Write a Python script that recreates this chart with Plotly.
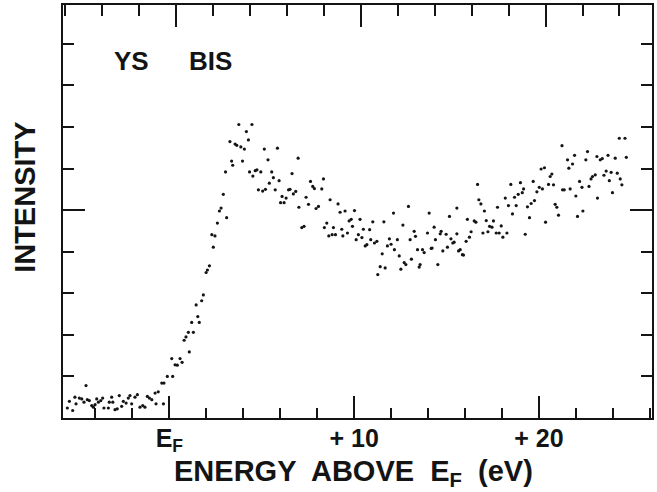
import plotly.graph_objects as go

# Energy above E_F (eV) and intensity (arbitrary units, 1 unit = 1 tick division)
energy = [
    -5.52, -5.41, -5.23, -5.11, -5.05, -4.87, -4.74, -4.62, -4.51, -4.44,
    -4.33, -4.20, -4.11, -4.02, -3.93, -3.84, -3.71, -3.61, -3.54, -3.30,
    -3.25, -3.12, -3.06, -2.94, -2.82, -2.71, -2.58, -2.49, -2.34, -2.22,
    -2.13, -2.04, -1.86, -1.73, -1.59, -1.44, -1.32, -1.19, -1.08, -0.95,
    -0.77, -0.72, -0.60, -0.41, -0.32, -0.29, -0.11, 0.13, 0.18, 0.31,
    0.43, 0.58, 0.69, 0.80, 0.90, 1.03, 1.08, 1.21, 1.30, 1.45,
    1.54, 1.62, 1.75, 1.84, 1.99, 2.06, 2.17, 2.30, 2.38, 2.47,
    2.60, 2.71, 2.80, 2.92, 3.04, 3.10, 3.28, 3.37, 3.43, 3.56,
    3.65, 3.76, 3.87, 3.96, 4.06, 4.17, 4.28, 4.34, 4.47, 4.52,
    4.65, 4.74, 4.82, 4.95, 5.05, 5.14, 5.20, 5.34, 5.41, 5.54,
    5.63, 5.73, 5.85, 5.94, 6.02, 6.10, 6.21, 6.32, 6.45, 6.53,
    6.64, 6.71, 6.84, 6.97, 7.01, 7.17, 7.29, 7.40, 7.53, 7.64,
    7.76, 7.85, 7.94, 8.07, 8.25, 8.34, 8.39, 8.52, 8.63, 8.70,
    8.81, 8.88, 8.99, 9.13, 9.24, 9.33, 9.39, 9.51, 9.64, 9.73,
    9.84, 9.91, 10.02, 10.11, 10.23, 10.32, 10.42, 10.50, 10.60, 10.69,
    10.84, 10.90, 11.01, 11.10, 11.23, 11.28, 11.41, 11.52, 11.61, 11.68,
    11.80, 11.91, 12.00, 12.13, 12.18, 12.34, 12.44, 12.53, 12.64, 12.71,
    12.80, 12.94, 13.03, 13.10, 13.25, 13.32, 13.43, 13.52, 13.57, 13.70,
    13.79, 13.97, 14.06, 14.17, 14.22, 14.33, 14.40, 14.53, 14.66, 14.71,
    14.80, 14.98, 15.05, 15.16, 15.24, 15.34, 15.41, 15.56, 15.56, 15.65,
    15.74, 15.86, 15.92, 16.06, 16.13, 16.24, 16.33, 16.50, 16.59, 16.68,
    16.75, 16.86, 16.97, 17.05, 17.15, 17.24, 17.33, 17.46, 17.54, 17.69,
    17.76, 17.85, 17.96, 18.05, 18.18, 18.27, 18.35, 18.48, 18.57, 18.68,
    18.77, 18.88, 19.00, 19.10, 19.17, 19.26, 19.38, 19.49, 19.58, 19.69,
    19.76, 19.89, 20.02, 20.12, 20.19, 20.30, 20.36, 20.52, 20.61, 20.70,
    20.79, 20.88, 20.97, 21.06, 21.25, 21.28, 21.37, 21.55, 21.62, 21.69,
    21.82, 21.93, 22.00, 22.09, 22.20, 22.33, 22.38, 22.54, 22.63, 22.71,
    22.82, 22.90, 23.05, 23.14, 23.17, 23.32, 23.43, 23.52, 23.64, 23.74,
    23.81, 23.91, 23.98, 24.13, 24.24, 24.35, 24.40, 24.49, 24.66, 24.73,
]

intensity = [
    0.24, 0.40, 0.18, 0.50, 0.34, 0.48, 0.46, 0.38, 0.78, 0.44,
    0.42, 0.30, 0.26, 0.32, 0.46, 0.38, 0.42, 0.48, 0.24, 0.24,
    0.38, 0.50, 0.38, 0.20, 0.22, 0.54, 0.28, 0.40, 0.36, 0.48,
    0.54, 0.34, 0.50, 0.56, 0.26, 0.30, 0.26, 0.52, 0.48, 0.44,
    0.60, 0.34, 0.63, 0.84, 0.34, 0.84, 1.00, 1.43, 1.00, 1.28,
    1.27, 1.43, 1.34, 1.87, 1.95, 2.06, 1.59, 2.30, 2.06, 2.72,
    2.44, 2.30, 2.82, 2.96, 3.50, 3.56, 3.66, 4.41, 4.11, 4.38,
    4.69, 4.98, 5.05, 5.38, 5.92, 4.82, 6.65, 6.18, 6.08, 6.59,
    6.56, 7.06, 6.52, 6.18, 6.47, 6.89, 6.69, 5.92, 7.06, 5.82,
    5.95, 5.97, 5.49, 5.92, 5.46, 6.47, 5.50, 6.21, 5.65, 5.92,
    5.78, 5.49, 6.49, 5.71, 5.18, 5.33, 5.18, 5.29, 5.49, 5.50,
    5.88, 5.39, 5.45, 6.25, 5.07, 4.58, 4.61, 5.31, 5.14, 5.69,
    5.57, 5.52, 5.04, 5.09, 5.51, 5.75, 4.58, 4.69, 4.38, 5.25,
    4.41, 4.58, 4.41, 5.15, 4.95, 4.54, 4.38, 4.98, 4.45, 4.74,
    4.78, 4.61, 4.99, 4.29, 4.41, 4.78, 4.34, 4.54, 4.14, 4.17,
    4.53, 4.29, 4.72, 4.21, 4.25, 3.45, 3.64, 3.95, 4.72, 3.61,
    4.14, 4.31, 4.18, 4.93, 4.05, 4.29, 3.90, 3.58, 4.64, 3.74,
    3.69, 5.09, 4.29, 3.82, 4.49, 4.37, 4.05, 3.63, 3.69, 4.05,
    3.98, 4.45, 4.93, 4.08, 4.09, 4.59, 4.29, 3.69, 4.43, 4.49,
    4.02, 4.42, 4.11, 4.85, 4.31, 4.21, 4.23, 5.05, 4.43, 4.02,
    4.05, 3.93, 3.92, 4.25, 4.78, 4.35, 4.48, 4.74, 4.71, 5.62,
    5.25, 5.15, 4.45, 4.98, 4.75, 4.48, 4.61, 4.59, 4.74, 4.45,
    5.07, 4.45, 4.62, 4.35, 5.29, 4.45, 5.11, 5.62, 4.91, 5.31,
    5.11, 5.38, 5.66, 5.42, 5.51, 4.42, 5.08, 4.82, 5.16, 5.69,
    5.23, 5.44, 5.55, 5.99, 5.51, 6.02, 4.71, 5.62, 5.81, 5.87,
    5.61, 5.14, 5.07, 4.88, 6.55, 5.49, 5.49, 6.21, 6.01, 5.51,
    6.11, 6.32, 5.34, 4.85, 5.69, 5.55, 4.98, 6.21, 6.41, 5.57,
    5.75, 5.81, 5.85, 6.29, 5.29, 6.21, 6.24, 5.84, 5.94, 6.32,
    5.71, 5.91, 5.42, 6.25, 5.89, 6.73, 5.75, 5.61, 6.73, 6.27,
]

x_range = [-5.755, 26.12]
y_range = [0, 9.935]
top_shift = 0.36          # top tick row of the scan sits slightly to the right
major_x = [0, 10, 20]
major_x_text = ["<b>E<sub>F</sub></b>", "<b>+ 10</b>", "<b>+ 20</b>"]

FONT = "Arial, Liberation Sans, Helvetica, sans-serif"
INK = "#141414"

fig = go.Figure()
fig.add_trace(go.Scatter(
    x=energy, y=intensity, mode="markers",
    marker=dict(size=3.2, color=INK), showlegend=False, hoverinfo="skip",
))
fig.add_trace(go.Scatter(
    x=[None], y=[None], xaxis="x2", mode="markers",
    showlegend=False, hoverinfo="skip",
))

fig.update_layout(
    width=657, height=492,
    margin=dict(l=63, r=5, t=5, b=74, autoexpand=False),
    paper_bgcolor="white", plot_bgcolor="white",
    xaxis=dict(
        range=x_range, showgrid=False, zeroline=False,
        showline=True, linecolor=INK, linewidth=2.2, mirror=False,
        tickmode="array", tickvals=major_x, ticktext=major_x_text,
        ticks="inside", ticklen=22, tickwidth=2, tickcolor=INK,
        minor=dict(tickmode="linear", tick0=0, dtick=2, ticks="inside",
                   ticklen=10, tickwidth=2, tickcolor=INK, showgrid=False),
        tickfont=dict(family=FONT, size=25, color=INK),
        ticklabelstandoff=-3,
    ),
    xaxis2=dict(
        overlaying="x", side="top", anchor="y",
        range=[x_range[0] - top_shift, x_range[1] - top_shift],
        showgrid=False, zeroline=False, showticklabels=False,
        showline=True, linecolor=INK, linewidth=2.2,
        tickmode="array", tickvals=major_x,
        ticks="inside", ticklen=22, tickwidth=2, tickcolor=INK,
        minor=dict(tickmode="linear", tick0=0, dtick=2, ticks="inside",
                   ticklen=11, tickwidth=2, tickcolor=INK, showgrid=False),
    ),
    yaxis=dict(
        range=y_range, showgrid=False, zeroline=False,
        showline=True, linecolor=INK, linewidth=2.2, mirror="ticks",
        tickmode="array", tickvals=[5], showticklabels=False,
        ticks="inside", ticklen=22, tickwidth=2, tickcolor=INK,
        minor=dict(tickmode="linear", tick0=0, dtick=1, ticks="inside",
                   ticklen=11, tickwidth=2, tickcolor=INK, showgrid=False),
    ),
    annotations=[
        dict(text="<b>YS</b>", xref="paper", yref="paper",
             x=(131 - 63) / 589, y=(418.3 - 61) / 413.3,
             xanchor="center", yanchor="middle", showarrow=False,
             font=dict(family=FONT, size=26, color=INK)),
        dict(text="<b>BIS</b>", xref="paper", yref="paper",
             x=(210 - 63) / 589, y=(418.3 - 61) / 413.3,
             xanchor="center", yanchor="middle", showarrow=False,
             font=dict(family=FONT, size=26, color=INK)),
        dict(text="<b>INTENSITY</b>", xref="paper", yref="paper",
             x=(25 - 63) / 589, y=(418.3 - 198) / 413.3, textangle=-90,
             xanchor="center", yanchor="middle", showarrow=False,
             font=dict(family=FONT, size=29, color=INK)),
        dict(text="<b>ENERGY  ABOVE  E<sub>F</sub>  (eV)</b>", xref="paper", yref="paper",
             x=(353 - 63) / 589, y=(418.3 - 473) / 413.3,
             xanchor="center", yanchor="middle", showarrow=False,
             font=dict(family=FONT, size=29, color=INK)),
    ],
)

fig.write_html(
    "out.html",
    config={"displayModeBar": False, "staticPlot": True},
    post_script="document.body.style.margin='0px';",
)
